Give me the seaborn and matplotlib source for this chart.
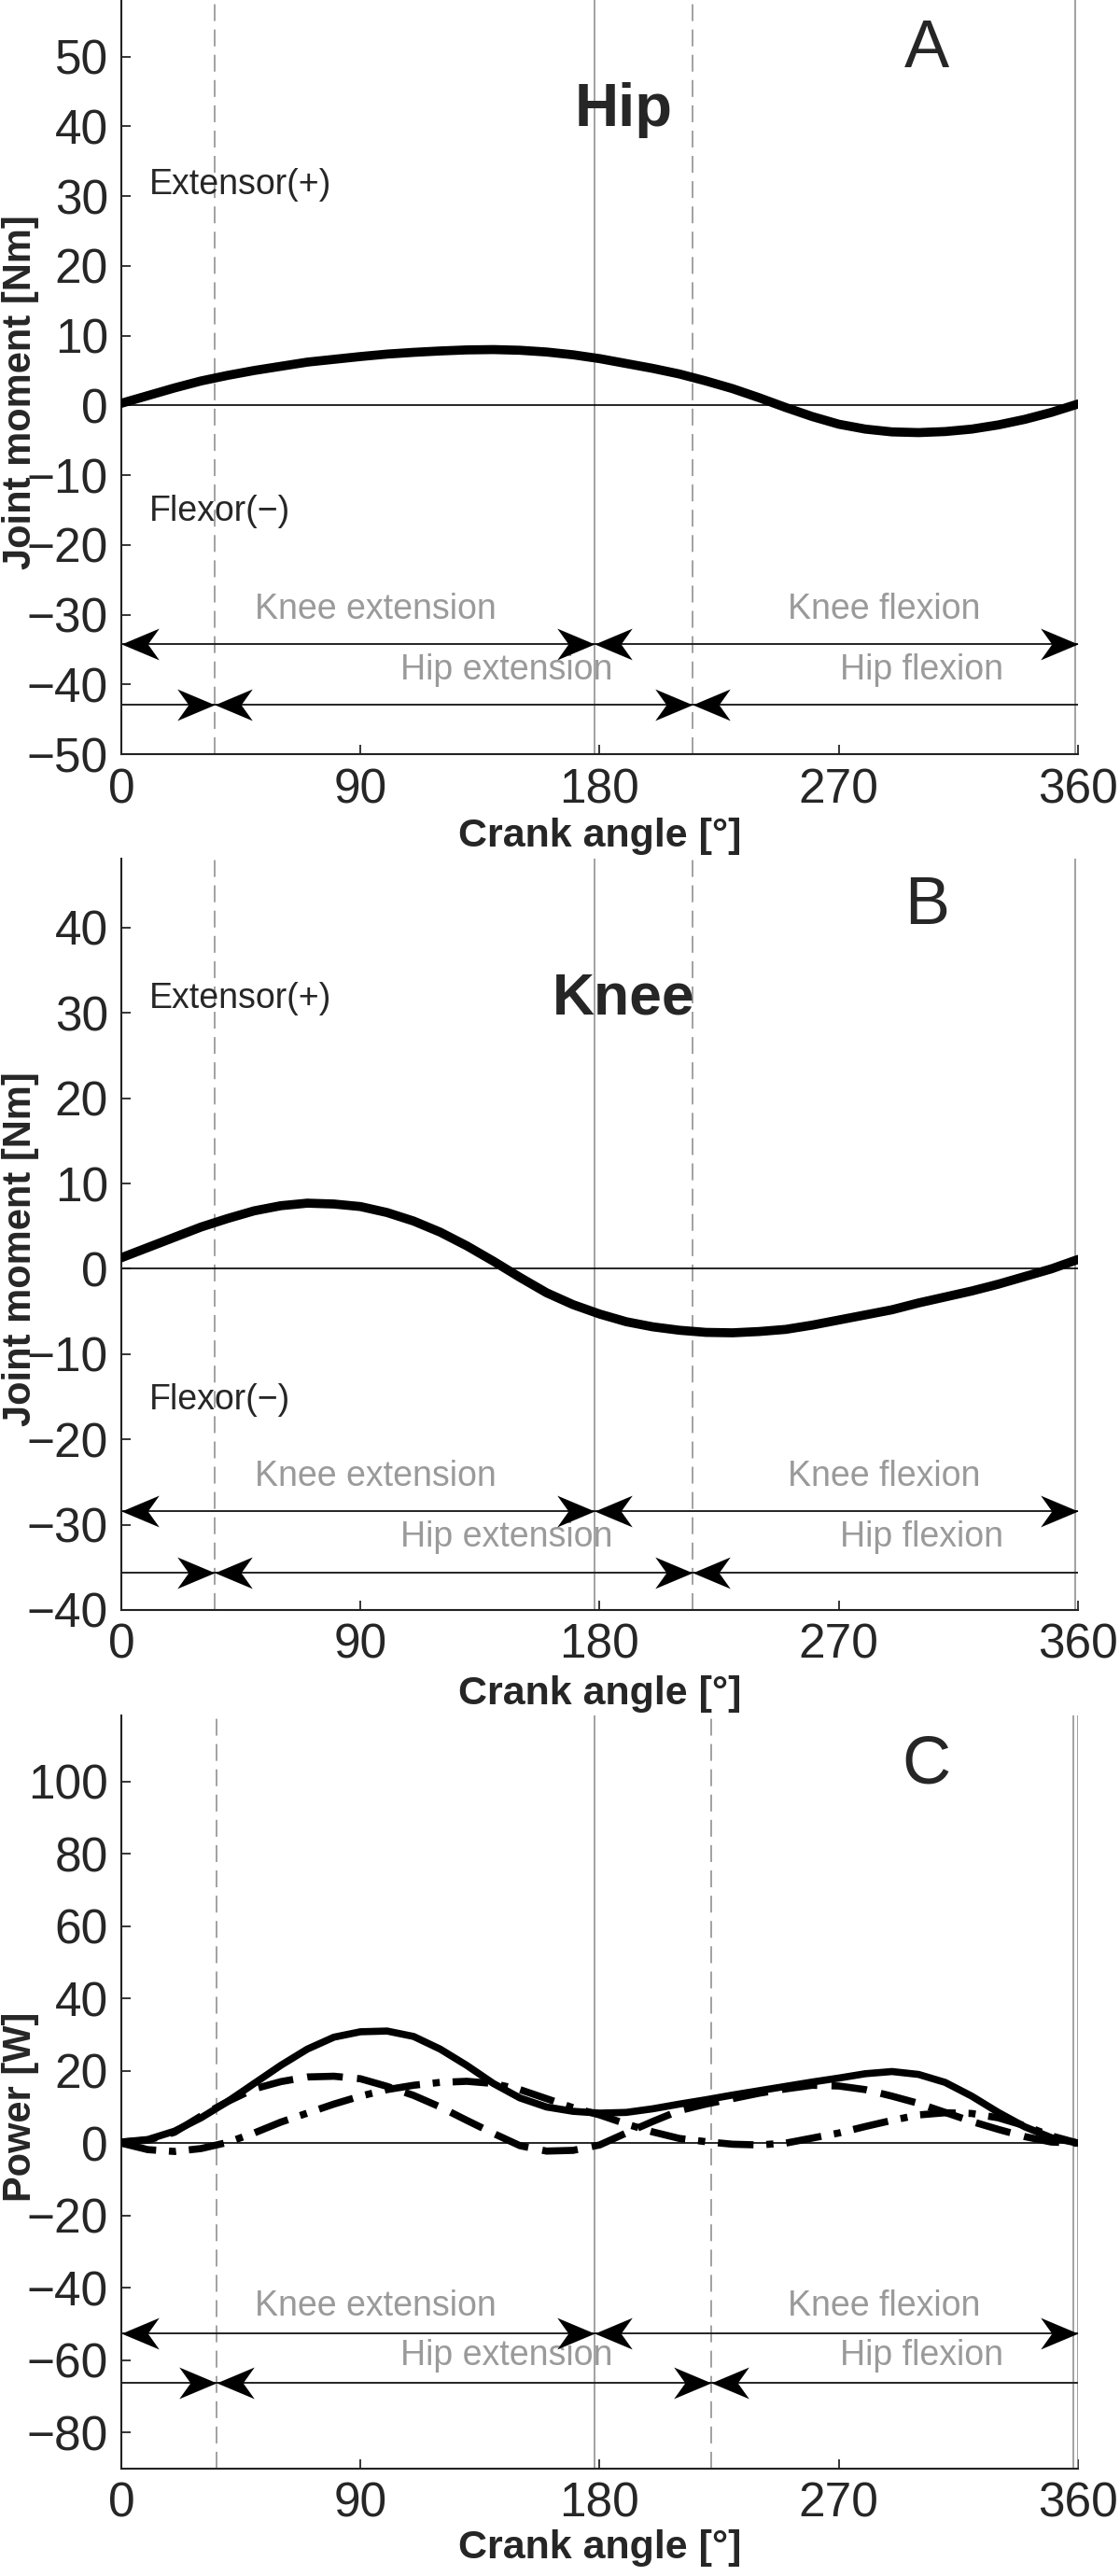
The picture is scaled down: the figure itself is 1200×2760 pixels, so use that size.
import numpy as np
import pandas as pd
import matplotlib
matplotlib.use("Agg")
import matplotlib.pyplot as plt
import seaborn as sns
from matplotlib.path import Path
from matplotlib import font_manager

# crank angle grid (deg)
angle = list(range(0, 361, 10))

# A: hip joint moment [Nm]
hip_moment = [0.3, 1.4, 2.5, 3.5, 4.3, 5.0, 5.6, 6.2, 6.6, 7.0, 7.35, 7.6, 7.8,
              7.95, 8.0, 7.9, 7.65, 7.25, 6.7, 6.0, 5.3, 4.5, 3.5, 2.4, 1.1,
              -0.3, -1.6, -2.7, -3.4, -3.8, -3.9, -3.75, -3.4, -2.8, -2.0, -1.0, 0.2]
# B: knee joint moment [Nm]
knee_moment = [1.3, 2.5, 3.7, 4.9, 5.9, 6.8, 7.4, 7.7, 7.6, 7.3, 6.6, 5.6, 4.3,
               2.7, 0.9, -1.0, -2.8, -4.2, -5.3, -6.2, -6.8, -7.2, -7.45, -7.5, -7.35,
               -7.1, -6.6, -6.0, -5.4, -4.8, -4.0, -3.3, -2.6, -1.8, -0.9, 0.0, 1.1]
# C: power [W]
power_solid = [0.3, 1.0, 3.3, 7.0, 11.5, 16.5, 21.5, 26.0, 29.3, 30.8, 31.0, 29.5, 26.0,
               21.5, 16.5, 12.5, 10.0, 8.8, 8.3, 8.5, 9.5, 10.8, 12.0, 13.3, 14.5,
               15.7, 16.9, 18.0, 19.2, 19.8, 19.0, 16.8, 13.0, 8.5, 4.5, 1.5, 0.0]
power_dashed = [0.3, 0.8, 3.0, 7.5, 11.5, 15.0, 17.0, 18.3, 18.5, 17.8, 15.7, 13.2, 10.0,
                6.3, 2.7, -0.7, -2.2, -2.0, -0.5, 2.8, 6.0, 9.0, 10.8, 12.3, 13.8,
                15.0, 16.0, 15.8, 14.8, 13.0, 11.0, 8.5, 6.0, 3.8, 1.8, 0.3, 0.0]
power_dashdot = [0.0, -1.8, -2.3, -1.5, 0.2, 2.8, 5.8, 8.3, 10.8, 13.0, 14.8, 16.0, 16.8,
                 17.1, 16.5, 14.8, 12.3, 9.8, 7.8, 5.3, 3.1, 1.3, 0.4, -0.3, -0.5,
                 0.0, 1.4, 2.8, 4.6, 6.3, 7.8, 8.4, 8.2, 7.0, 4.8, 2.0, 0.0]

# phase boundaries (deg)
knee_bounds = [0, 178, 360]
hip_bounds_ab = [35, 215]
hip_bounds_c = [36, 222]
solid_vlines_ab = [178, 359]
solid_vlines_c = [178, 358.3, 360]

xticks = [0, 90, 180, 270, 360]

sns.set_style("ticks")
plt.rcParams['font.family'] = ['Liberation Sans', 'DejaVu Sans']
plt.rcParams['lines.solid_joinstyle'] = 'round'
plt.rcParams['lines.dash_joinstyle'] = 'round'

installed = {f.name for f in font_manager.fontManager.ttflist}
if 'Liberation Sans Narrow' in installed:
    LABEL_FONT = ['Liberation Sans Narrow', 'DejaVu Sans']
    LABEL_SIZE = 36
else:
    LABEL_FONT = ['Liberation Sans', 'DejaVu Sans']
    LABEL_SIZE = 30

GRAY = '#9a9a9a'

head_r = Path([(0, 0), (-1, 0.42), (-0.7, 0), (-1, -0.42), (0, 0)],
              [Path.MOVETO, Path.LINETO, Path.LINETO, Path.LINETO, Path.CLOSEPOLY])
head_l = Path([(0, 0), (1, 0.42), (0.7, 0), (1, -0.42), (0, 0)],
              [Path.MOVETO, Path.LINETO, Path.LINETO, Path.LINETO, Path.CLOSEPOLY])


def phase_row(ax, y, segments):
    ax.hlines(y, 0, 360, color='#222222', lw=1.4, zorder=3)
    for a, b in segments:
        ax.plot([a], [y], marker=head_l, ms=58, mfc='black', mew=0, ls='none', zorder=4, clip_on=False)
        ax.plot([b], [y], marker=head_r, ms=58, mfc='black', mew=0, ls='none', zorder=4, clip_on=False)


def setup(ax, ylim, yticks, ylabel, xlabel_y, dashed, solid, letter, letter_y,
          knee_y, hip_y, knee_txt_y, hip_txt_y, hip_b):
    ax.set_xlim(0, 360)
    ax.set_ylim(*ylim)
    ax.set_xticks(xticks)
    ax.set_yticks(yticks)
    ax.tick_params(direction='in', length=7, width=1.3, labelsize=37, pad=10)
    ax.tick_params(axis='x', pad=10)
    for s in ['top', 'right']:
        ax.spines[s].set_visible(False)
    for s in ['left', 'bottom']:
        ax.spines[s].set_linewidth(1.5)
        ax.spines[s].set_color('#222222')
    ax.set_ylabel(ylabel, fontsize=LABEL_SIZE, fontweight='bold', family=LABEL_FONT)
    ax.yaxis.set_label_coords(-0.086, 0.48)
    ax.set_xlabel('Crank angle [°]', fontsize=LABEL_SIZE + 1, fontweight='bold',
                  family=LABEL_FONT, va='center')
    ax.xaxis.set_label_coords(0.5, xlabel_y)
    for x in dashed:
        ax.axvline(x, color=GRAY, lw=1.3, ls=(0, (10, 5)), zorder=1)
    for x in solid:
        ax.axvline(x, color=GRAY, lw=1.3, zorder=1)
    ax.axhline(0, color='black', lw=1.2, zorder=2)
    ax.text(303, letter_y, letter, fontsize=52, ha='center', va='center')
    ax.text(95.5, knee_txt_y, 'Knee extension', color=GRAY, fontsize=27, ha='center', va='center')
    ax.text(287, knee_txt_y, 'Knee flexion', color=GRAY, fontsize=27, ha='center', va='center')
    ax.text(145, hip_txt_y, 'Hip extension', color=GRAY, fontsize=27, ha='center', va='center')
    ax.text(301, hip_txt_y, 'Hip flexion', color=GRAY, fontsize=27, ha='center', va='center')
    phase_row(ax, knee_y, [(knee_bounds[0], knee_bounds[1]), (knee_bounds[1], knee_bounds[2])])
    phase_row(ax, hip_y, [(hip_b[0], hip_b[1]), (hip_b[1], hip_b[0])])


fig = plt.figure(figsize=(12, 27.6), dpi=100)
axA = fig.add_axes([0.1083, 0.7072, 0.8542, 0.2928])
axB = fig.add_axes([0.1083, 0.3750, 0.8542, 0.2917])
axC = fig.add_axes([0.1083, 0.0417, 0.8542, 0.2924])

# A - hip
setup(axA, (-50, 58.1), range(-50, 51, 10), 'Joint moment [Nm]', -0.109,
      hip_bounds_ab, solid_vlines_ab, 'A', 51, -34.2, -42.9, -29.3, -37.9, hip_bounds_ab)
sns.lineplot(x=angle, y=hip_moment, ax=axA, color='black', lw=7, zorder=5)
axA.text(189, 42.3, 'Hip', fontsize=47, fontweight='bold', ha='center', va='center')
axA.text(10.5, 31.6, 'Extensor(+)', fontsize=27, va='center')
axA.text(10.5, -15.2, 'Flexor(\u2212)', fontsize=27, va='center')

# B - knee
setup(axB, (-40, 48.1), range(-40, 41, 10), 'Joint moment [Nm]', -0.112,
      hip_bounds_ab, solid_vlines_ab, 'B', 42.4, -28.4, -35.6, -24.3, -31.5, hip_bounds_ab)
sns.lineplot(x=angle, y=knee_moment, ax=axB, color='black', lw=7, zorder=5)
axB.text(189, 31.7, 'Knee', fontsize=45, fontweight='bold', ha='center', va='center')
axB.text(10.5, 31.7, 'Extensor(+)', fontsize=27, va='center')
axB.text(10.5, -15.4, 'Flexor(\u2212)', fontsize=27, va='center')

# C - power
setup(axC, (-90, 118.3), range(-80, 101, 20), 'Power [W]', -0.105,
      hip_bounds_c, solid_vlines_c, 'C', 104.4, -52.5, -66.2, -45.2, -58.7, hip_bounds_c)
sns.lineplot(x=angle, y=power_solid, ax=axC, color='black', lw=5.5, zorder=5)
sns.lineplot(x=angle, y=power_dashed, ax=axC, color='black', lw=5.5, ls=(0, (5, 2)), zorder=5)
sns.lineplot(x=angle, y=power_dashdot, ax=axC, color='black', lw=5.5, ls=(0, (5, 1.8, 1, 1.8)), zorder=5)

fig.savefig('out.png', dpi=100)
